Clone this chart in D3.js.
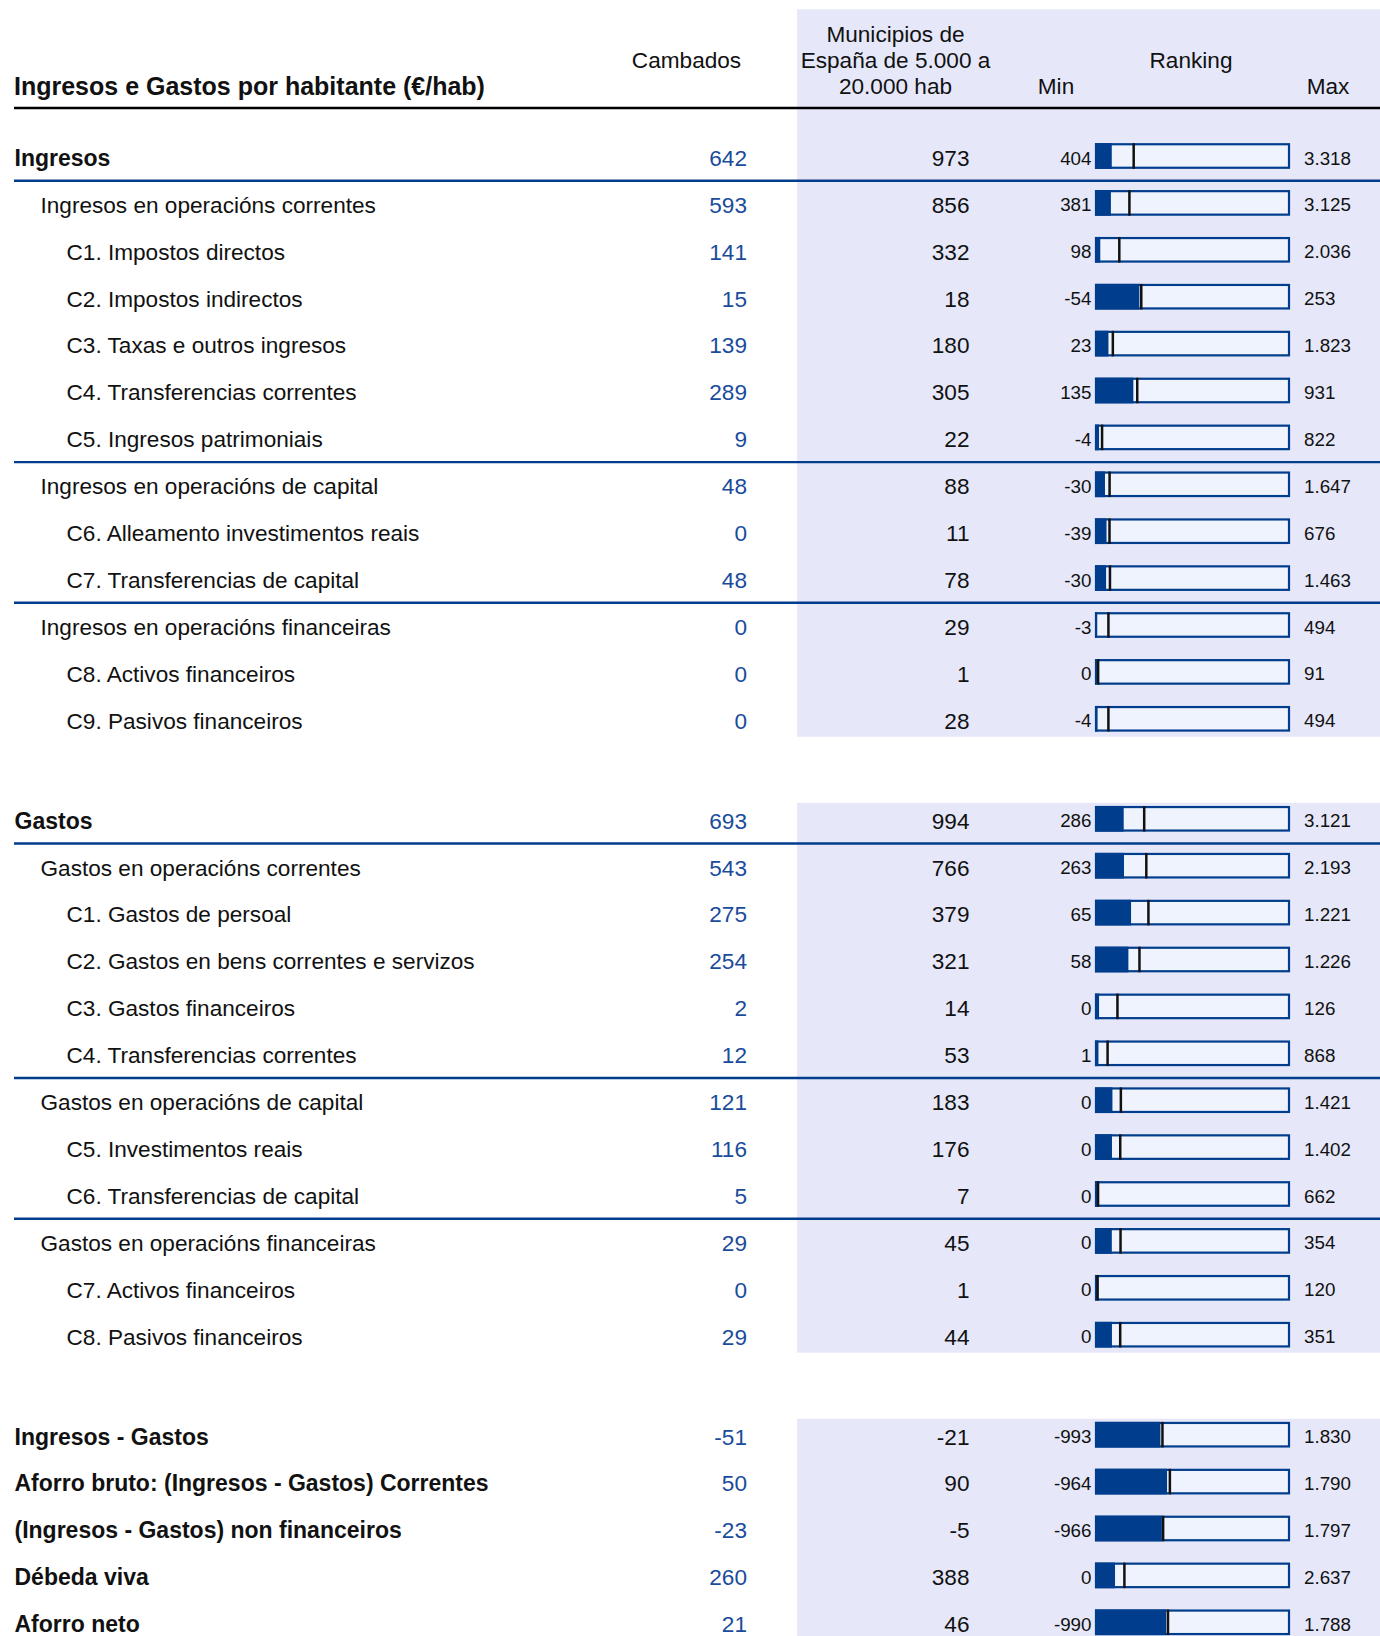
<!DOCTYPE html>
<html>
<head>
<meta charset="utf-8">
<script src="https://cdn.jsdelivr.net/npm/d3@7"></script>
<style>
  html, body { margin: 0; padding: 0; background: #ffffff; }
  svg { display: block; }
  text { font-family: "Liberation Sans", Arial, Helvetica, sans-serif; }
</style>
</head>
<body>
<div id="chart"></div>
<script>
// ---------------- DATA ----------------
const title = "Ingresos e Gastos por habitante (€/hab)";
const colHeaderCambados = "Cambados";
const colHeaderMunicipios = ["Municipios de", "España de 5.000 a", "20.000 hab"];
const colHeaderRanking = "Ranking";
const colHeaderMin = "Min";
const colHeaderMax = "Max";

const categories = [
  "Ingresos",
  "Ingresos en operacións correntes",
  "C1. Impostos directos",
  "C2. Impostos indirectos",
  "C3. Taxas e outros ingresos",
  "C4. Transferencias correntes",
  "C5. Ingresos patrimoniais",
  "Ingresos en operacións de capital",
  "C6. Alleamento investimentos reais",
  "C7. Transferencias de capital",
  "Ingresos en operacións financeiras",
  "C8. Activos financeiros",
  "C9. Pasivos financeiros",
  "Gastos",
  "Gastos en operacións correntes",
  "C1. Gastos de persoal",
  "C2. Gastos en bens correntes e servizos",
  "C3. Gastos financeiros",
  "C4. Transferencias correntes",
  "Gastos en operacións de capital",
  "C5. Investimentos reais",
  "C6. Transferencias de capital",
  "Gastos en operacións financeiras",
  "C7. Activos financeiros",
  "C8. Pasivos financeiros",
  "Ingresos - Gastos",
  "Aforro bruto: (Ingresos - Gastos) Correntes",
  "(Ingresos - Gastos) non financeiros",
  "Débeda viva",
  "Aforro neto"
];
// indentation level (0 = bold section header)
const levels = [0,1,2,2,2,2,2,1,2,2,1,2,2, 0,1,2,2,2,2,1,2,2,1,2,2, 0,0,0,0,0];
// block (shaded panel) each row belongs to
const blocks = [0,0,0,0,0,0,0,0,0,0,0,0,0, 1,1,1,1,1,1,1,1,1,1,1,1, 2,2,2,2,2];
// rows that have a blue rule beneath them
const ruleAfter = [1,0,0,0,0,0,1,0,0,1,0,0,0, 1,0,0,0,0,1,0,0,1,0,0,0, 0,0,0,0,0];

const cambados   = [642,593,141,15,139,289,9,48,0,48,0,0,0, 693,543,275,254,2,12,121,116,5,29,0,29, -51,50,-23,260,21];
const municipios = [973,856,332,18,180,305,22,88,11,78,29,1,28, 994,766,379,321,14,53,183,176,7,45,1,44, -21,90,-5,388,46];
const rankMin    = [404,381,98,-54,23,135,-4,-30,-39,-30,-3,0,-4, 286,263,65,58,0,1,0,0,0,0,0,0, -993,-964,-966,0,-990];
const rankMax    = [3318,3125,2036,253,1823,931,822,1647,676,1463,494,91,494, 3121,2193,1221,1226,126,868,1421,1402,662,354,120,351, 1830,1790,1797,2637,1788];

// ---------------- LAYOUT / STYLE ----------------
const W = 1380, H = 1636;
const C = {
  panel: "#E6E8FA",
  barBg: "#EFF3FD",
  blue: "#003D8C",
  numBlue: "#1A4C9C",
  text: "#111111",
  marker: "#111111"
};
const FONT_REG = 22.6, FONT_BOLD = 23, FONT_TITLE = 25, FONT_SMALL = 18.8;
const rowH = 46.9, blockGap = 100, firstY = 156;
const indent = [14.5, 40.5, 66.5];
const xCamb = 747, xMuni = 969.5, xMinLbl = 1091.5, xMaxLbl = 1304;
const barX0 = 1096, barX1 = 1289, barH = 23.5;
const panelX = 797;

const fmt = d3.formatLocale({decimal: ",", thousands: ".", grouping: [3], currency: ["", "€"], minus: "-"}).format(",d");

// row centres
const rows = categories.map((name, i) => ({
  name, level: levels[i], block: blocks[i], rule: ruleAfter[i],
  camb: cambados[i], muni: municipios[i], min: rankMin[i], max: rankMax[i]
}));
let y = firstY;
rows.forEach((r, i) => {
  if (i > 0) y += (r.block !== rows[i - 1].block) ? blockGap : rowH;
  r.y = y;
});

const svg = d3.select("#chart").append("svg")
  .attr("width", W).attr("height", H).attr("viewBox", `0 0 ${W} ${H}`);

// shaded panels
const blockIds = Array.from(new Set(blocks));
blockIds.forEach(b => {
  const br = rows.filter(r => r.block === b);
  const top = b === 0 ? 9.3 : br[0].y - 16;
  const bottom = Math.min(H, br[br.length - 1].y + 18);
  svg.append("rect")
    .attr("x", panelX).attr("y", top)
    .attr("width", W - panelX).attr("height", bottom - top)
    .attr("fill", C.panel);
});

// header
const hdr = svg.append("g");
hdr.append("text").attr("x", 14).attr("y", 94.5).attr("font-size", FONT_TITLE)
  .attr("font-weight", "bold").attr("fill", C.text).text(title);
hdr.append("text").attr("x", 686.5).attr("y", 68.3).attr("font-size", FONT_REG)
  .attr("text-anchor", "middle").attr("fill", C.text).text(colHeaderCambados);
colHeaderMunicipios.forEach((t, i) => {
  hdr.append("text").attr("x", 895.5).attr("y", 41.5 + i * 26.4).attr("font-size", FONT_REG)
    .attr("text-anchor", "middle").attr("fill", C.text).text(t);
});
hdr.append("text").attr("x", 1191).attr("y", 68.3).attr("font-size", FONT_REG)
  .attr("text-anchor", "middle").attr("fill", C.text).text(colHeaderRanking);
hdr.append("text").attr("x", 1056).attr("y", 94.3).attr("font-size", FONT_REG)
  .attr("text-anchor", "middle").attr("fill", C.text).text(colHeaderMin);
hdr.append("text").attr("x", 1328).attr("y", 94.3).attr("font-size", FONT_REG)
  .attr("text-anchor", "middle").attr("fill", C.text).text(colHeaderMax);
hdr.append("line").attr("x1", 14).attr("x2", W).attr("y1", 108).attr("y2", 108)
  .attr("stroke", "#000").attr("stroke-width", 2.6);

// rows
const g = svg.append("g");
const rowG = g.selectAll("g.row").data(rows).join("g").attr("class", "row");

rowG.append("text")
  .attr("x", d => indent[d.level])
  .attr("y", d => d.y + 9.8)
  .attr("font-size", d => d.level === 0 ? FONT_BOLD : FONT_REG)
  .attr("font-weight", d => d.level === 0 ? "bold" : "normal")
  .attr("fill", C.text)
  .text(d => d.name);

rowG.append("text")
  .attr("x", xCamb).attr("y", d => d.y + 9.8)
  .attr("text-anchor", "end").attr("font-size", FONT_REG)
  .attr("fill", C.numBlue).text(d => fmt(d.camb));

rowG.append("text")
  .attr("x", xMuni).attr("y", d => d.y + 9.8)
  .attr("text-anchor", "end").attr("font-size", FONT_REG)
  .attr("fill", C.text).text(d => fmt(d.muni));

rowG.append("text")
  .attr("x", xMinLbl).attr("y", d => d.y + 8.5)
  .attr("text-anchor", "end").attr("font-size", FONT_SMALL)
  .attr("fill", C.text).text(d => fmt(d.min));

rowG.append("text")
  .attr("x", xMaxLbl).attr("y", d => d.y + 8.5)
  .attr("text-anchor", "start").attr("font-size", FONT_SMALL)
  .attr("fill", C.text).text(d => fmt(d.max));

// ranking bars
rowG.each(function(d) {
  const sel = d3.select(this);
  const x = d3.scaleLinear().domain([d.min, d.max]).range([barX0, barX1]);
  sel.append("rect")
    .attr("x", x(d.min)).attr("y", d.y - barH / 2)
    .attr("width", x(d.max) - x(d.min)).attr("height", barH)
    .attr("fill", C.barBg).attr("stroke", C.blue).attr("stroke-width", 2.2);
  sel.append("rect")
    .attr("x", x(d.min) - 1).attr("y", d.y - barH / 2 - 1.1)
    .attr("width", Math.max(0, x(d.camb) - x(d.min) + 1)).attr("height", barH + 2.2)
    .attr("fill", C.blue);
  sel.append("line")
    .attr("x1", x(d.muni)).attr("x2", x(d.muni))
    .attr("y1", d.y - barH / 2 - 1).attr("y2", d.y + barH / 2 + 1)
    .attr("stroke", C.marker).attr("stroke-width", 2.5);
});

// blue rules
g.selectAll("line.rule").data(rows.filter(r => r.rule)).join("line")
  .attr("class", "rule")
  .attr("x1", 14).attr("x2", W)
  .attr("y1", d => d.y + 24.7).attr("y2", d => d.y + 24.7)
  .attr("stroke", C.blue).attr("stroke-width", 2.4);
</script>
</body>
</html>
